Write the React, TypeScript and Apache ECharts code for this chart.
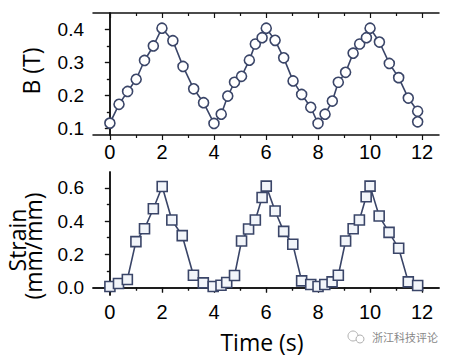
import React, { useEffect, useRef } from "react";
import * as echarts from "echarts";

const timeB = [0, 0.35, 0.68, 1.01, 1.33, 1.67, 2.0, 2.42, 2.81, 3.22, 3.6, 4.0, 4.28, 4.53, 4.79, 5.06, 5.36, 5.59, 5.85, 6.01, 6.35, 6.68, 7.04, 7.37, 7.72, 8.0, 8.27, 8.55, 8.78, 9.06, 9.35, 9.6, 9.86, 10.0, 10.36, 10.74, 11.1, 11.47, 11.83, 11.83];
const fieldB = [0.116, 0.173, 0.212, 0.249, 0.306, 0.35, 0.404, 0.366, 0.288, 0.22, 0.178, 0.115, 0.143, 0.198, 0.24, 0.258, 0.307, 0.356, 0.375, 0.404, 0.367, 0.314, 0.244, 0.203, 0.164, 0.115, 0.143, 0.183, 0.24, 0.27, 0.328, 0.356, 0.375, 0.404, 0.362, 0.297, 0.254, 0.192, 0.152, 0.12];

const timeStrain = [0, 0.33, 0.67, 1.0, 1.33, 1.67, 2.01, 2.38, 2.78, 3.21, 3.59, 3.97, 4.27, 4.49, 4.79, 5.06, 5.33, 5.59, 5.85, 6.01, 6.35, 6.68, 7.03, 7.37, 7.72, 8.0, 8.26, 8.54, 8.78, 9.06, 9.35, 9.59, 9.85, 10.0, 10.35, 10.73, 11.1, 11.47, 11.83];
const strain = [0.006, 0.024, 0.048, 0.276, 0.354, 0.474, 0.608, 0.406, 0.312, 0.074, 0.028, 0.006, 0.014, 0.03, 0.072, 0.28, 0.352, 0.406, 0.542, 0.61, 0.46, 0.338, 0.26, 0.04, 0.018, 0.006, 0.018, 0.034, 0.074, 0.28, 0.354, 0.406, 0.546, 0.61, 0.43, 0.332, 0.236, 0.034, 0.012];

const xMajorTicks = [0, 2, 4, 6, 8, 10, 12];
const xMinorTicks = [1, 3, 5, 7, 9, 11];
const bMajorTicks = [0.1, 0.2, 0.3, 0.4];
const bMinorTicks = [0.15, 0.25, 0.35];
const sMajorTicks = [0, 0.2, 0.4, 0.6];
const sMinorTicks = [0.1, 0.3, 0.5];

const INK = "#3a4568";
const FONT = "'Liberation Sans', Arial, sans-serif";
const TITLE_FONT = "'Open Sans', sans-serif";
const TICK = { color: "#111", width: 1.2 };

// per grid: [bottom, top]
function xAxes(g: number, ticks: number[], len: number, labels: boolean, line: boolean) {
  const base = { type: "value", gridIndex: g, min: -0.65, max: 12.65, splitLine: { show: false } };
  const axisLine = line ? { show: true, lineStyle: { color: "#111", width: 1.5 } } : { show: false };
  return [
    { ...base, position: "bottom", axisLine,
      axisTick: { show: true, customValues: ticks, length: len, lineStyle: TICK },
      axisLabel: labels
        ? { show: true, customValues: ticks, fontSize: 20, margin: 7, color: "#000", fontFamily: FONT }
        : { show: false } },
    { ...base, position: "top", axisLine,
      axisTick: { show: true, inside: true, customValues: ticks, length: len, lineStyle: TICK },
      axisLabel: { show: false } },
  ];
}

// per grid: [left, right]
function yAxes(g: number, min: number, max: number, ticks: number[], len: number, labels: boolean, line: boolean) {
  const base = { type: "value", gridIndex: g, min, max, splitLine: { show: false } };
  const axisLine = line ? { show: true, lineStyle: { color: "#111", width: 1.5 } } : { show: false };
  return [
    { ...base, position: "left", axisLine,
      axisTick: { show: true, customValues: ticks, length: len, lineStyle: TICK },
      axisLabel: labels
        ? { show: true, customValues: ticks, fontSize: 19, margin: 9, color: "#000", fontFamily: FONT,
            formatter: (v: number) => v.toFixed(1) }
        : { show: false } },
    { ...base, position: "right", axisLine,
      axisTick: { show: true, inside: true, customValues: ticks, length: len, lineStyle: TICK },
      axisLabel: { show: false } },
  ];
}

export default function App() {
  const ref = useRef<HTMLDivElement>(null);
  useEffect(() => {
    if (!ref.current) return;
    const chart = echarts.init(ref.current, undefined, { renderer: "svg" });
    const topRect = { left: 93, width: 346, top: 13, height: 122 };
    const botRect = { left: 93, width: 346, top: 172, height: 123 };
    chart.setOption({
      animation: false,
      backgroundColor: "#ffffff",
      grid: [topRect, { ...topRect }, botRect, { ...botRect }],
      xAxis: [
        ...xAxes(0, xMajorTicks, 5, true, true),
        ...xAxes(1, xMinorTicks, 3, false, false),
        ...xAxes(2, xMajorTicks, 5, true, true),
        ...xAxes(3, xMinorTicks, 3, false, false),
      ],
      yAxis: [
        ...yAxes(0, 0.08, 0.45, bMajorTicks, 5, true, true),
        ...yAxes(1, 0.08, 0.45, bMinorTicks, 3, false, false),
        ...yAxes(2, -0.045, 0.695, sMajorTicks, 5, true, true),
        ...yAxes(3, -0.045, 0.695, sMinorTicks, 3, false, false),
      ],
      series: [
        {
          type: "line", xAxisIndex: 0, yAxisIndex: 0,
          data: timeB.map((t, i) => [t, fieldB[i]]),
          symbol: "circle", symbolSize: 10,
          lineStyle: { color: INK, width: 1.6 },
          itemStyle: { color: "#ffffff", borderColor: INK, borderWidth: 1.6 },
        },
        {
          type: "line", xAxisIndex: 4, yAxisIndex: 4,
          data: timeStrain.map((t, i) => [t, strain[i]]),
          symbol: "rect", symbolSize: 10,
          lineStyle: { color: INK, width: 1.6 },
          itemStyle: { color: "#f2f5fa", borderColor: INK, borderWidth: 1.6 },
        },
      ],
      graphic: [
        { type: "text", x: 31, y: 71, rotation: Math.PI / 2,
          style: { text: "B (T)", fontSize: 23, lineHeight: 24, fontFamily: TITLE_FONT, fill: "#000", align: "center", verticalAlign: "middle" } },
        { type: "text", x: 17, y: 240, rotation: Math.PI / 2,
          style: { text: "Strain", fontSize: 23, lineHeight: 22, fontFamily: TITLE_FONT, fill: "#000", align: "center", verticalAlign: "middle" } },
        { type: "text", x: 33, y: 246, rotation: Math.PI / 2,
          style: { text: "(mm/mm)", fontSize: 23, lineHeight: 22, fontFamily: TITLE_FONT, fill: "#000", align: "center", verticalAlign: "middle" } },
        { type: "text", x: 262, y: 342,
          style: { text: "Time (s)", fontSize: 23, lineHeight: 22, fontFamily: TITLE_FONT, fill: "#000", align: "center", verticalAlign: "middle" } },
        { type: "circle", shape: { cx: 353, cy: 336, r: 5 }, style: { fill: "none", stroke: "#b0b0b0", lineWidth: 1 } },
        { type: "circle", shape: { cx: 360, cy: 339, r: 4 }, style: { fill: "#fff", stroke: "#b0b0b0", lineWidth: 1 } },
        { type: "text", x: 405, y: 337,
          style: { text: "浙江科技评论", fontSize: 11, fontFamily: "'Noto Sans CJK SC', sans-serif", fill: "#888", align: "center", verticalAlign: "middle" } },
      ],
    });
    return () => chart.dispose();
  }, []);
  return <div ref={ref} style={{ position: "fixed", left: 0, top: 0, width: 452, height: 357 }} />;
}
